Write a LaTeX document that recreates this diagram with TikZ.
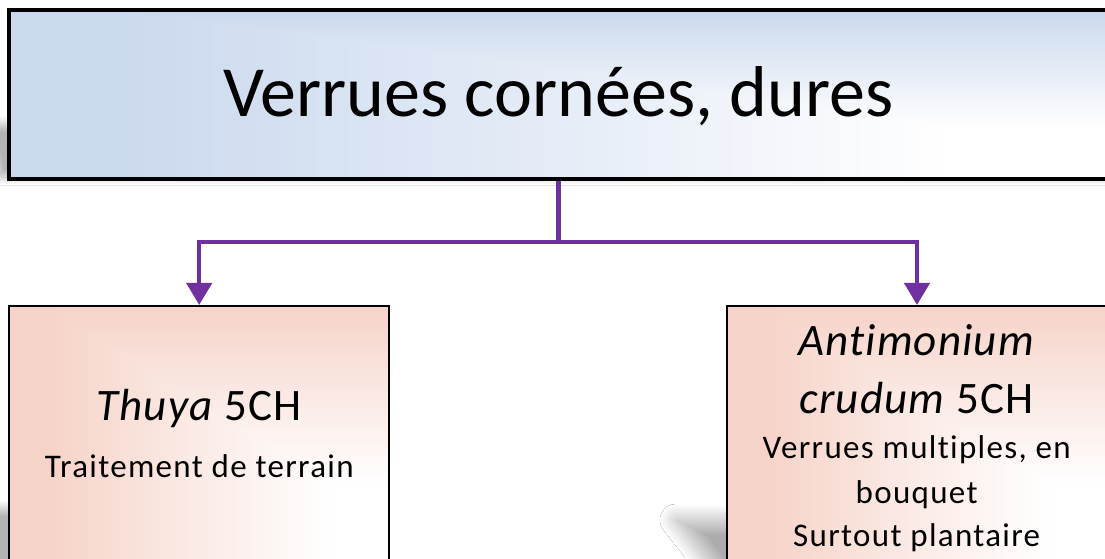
\documentclass[tikz,border=0pt]{standalone}
\usepackage{fontspec}
\setmainfont{Carlito}[Ligatures=CommonOff]
\newfontfamily\bigf{Carlito}[LetterSpace=2.5,Ligatures=CommonOff]
\newfontfamily\smallf{Carlito}[LetterSpace=4,Ligatures=CommonOff]
\usetikzlibrary{arrows.meta,shadows.blur}
\definecolor{purp}{HTML}{7030A0}
\definecolor{topblue}{HTML}{CBD9EE}
\definecolor{salmon}{HTML}{F6D3C8}
% horizontal parts (25bp = left edge, 75bp = right edge)
\pgfdeclarehorizontalshading{tophgrad}{100bp}{color(0bp)=(topblue); color(30bp)=(topblue); color(48bp)=(topblue!55!white); color(68bp)=(white); color(100bp)=(white)}
\pgfdeclarehorizontalshading{subhgrad}{100bp}{color(0bp)=(salmon); color(30bp)=(salmon); color(48bp)=(salmon!50!white); color(68bp)=(white); color(100bp)=(white)}
% vertical parts (25bp = bottom edge, 75bp = top edge)
\pgfdeclareverticalshading{topvgrad}{100bp}{color(0bp)=(white); color(40bp)=(white); color(75bp)=(topblue); color(100bp)=(topblue)}
\pgfdeclareverticalshading{subvgrad}{100bp}{color(0bp)=(white); color(45bp)=(white); color(75bp)=(salmon); color(100bp)=(salmon)}
\begin{document}
\begin{tikzpicture}[x=1pt,y=-1pt,
  topbox/.style={draw=black,line width=4pt,minimum width=1099.4pt,minimum height=168.2pt,inner sep=0pt,
    shade,shading=tophgrad,
    path picture={\shade[shading=topvgrad,blend mode=darken] (path picture bounding box.south west) rectangle (path picture bounding box.north east);}},
  subbox/.style={draw=black,line width=1.7pt,minimum width=380pt,minimum height=300pt,inner sep=0pt,
    shade,shading=subhgrad,
    path picture={\shade[shading=subvgrad,blend mode=darken] (path picture bounding box.south west) rectangle (path picture bounding box.north east);}},
  conn/.style={draw=purp,line width=4.5pt,-{Triangle[width=25pt,length=22pt]}},
  big/.style={font=\bigf\fontsize{45}{50}\selectfont,anchor=base,inner sep=0pt},
  small/.style={font=\smallf\fontsize{33}{36}\selectfont,anchor=base,inner sep=0pt},
  softshadow/.style={blur shadow={shadow xshift=0pt,shadow yshift=0pt,shadow blur radius=8pt,shadow opacity=30,shadow blur steps=20}},
  widesoft/.style={blur shadow={shadow xshift=0pt,shadow yshift=0pt,shadow blur radius=16pt,shadow opacity=33,shadow blur steps=24}}
]
\useasboundingbox[fill=white] (0,0) rectangle (1105,558);
% shadows
\path[softshadow] (-12,124) -- (1125,124) -- (1125,177) -- (-2,177) -- cycle;
\path[softshadow] (-20,508) -- (300,508) -- (300,620) -- (-20,620) -- cycle;
\path[widesoft] (676,520) -- (900,520) -- (900,620) -- (754,620) -- cycle;
% boxes
\node[topbox,font=\fontsize{72}{80}\selectfont,text height=49pt,text depth=5pt] (top) at (558.5,94.4) {Verrues cornées, dures};
\node[subbox] (lb) at (199.2,455.8) {};
\node[subbox] (rb) at (917,455.8) {};
% texts
\node[big] (lt1) at (199.2,420) {\textit{Thuya} 5CH};
\node[small] (lt2) at (199.2,477.3) {Traitement de terrain};
\node[big] (rt1) at (916.7,355) {\textit{Antimonium}};
\node[big] (rt2) at (916.7,413.3) {\textit{crudum} 5CH};
\node[small] (rt3) at (916.7,458.3) {Verrues multiples, en};
\node[small] (rt4) at (916.7,503.3) {bouquet};
\node[small] (rt5) at (916.7,546.7) {Surtout plantaire};
% connectors
\coordinate (hub) at (558.5,242);
\draw[conn] (top.south) -- (hub) -| (lb.north);
\draw[conn] (top.south) -- (hub) -| (rb.north);
\end{tikzpicture}
\end{document}
